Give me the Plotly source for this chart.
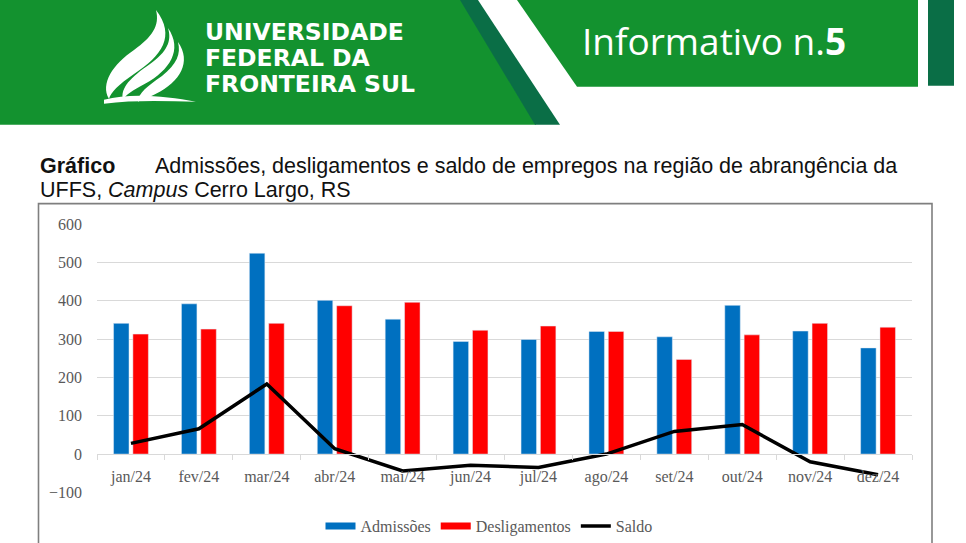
import plotly.graph_objects as go

# ---------------- data ----------------
meses = ["jan/24", "fev/24", "mar/24", "abr/24", "mai/24", "jun/24",
         "jul/24", "ago/24", "set/24", "out/24", "nov/24", "dez/24"]
admissoes = [341, 392, 524, 401, 352, 294, 299, 320, 306, 388, 321, 277]
desligamentos = [313, 326, 341, 387, 396, 323, 334, 320, 247, 311, 341, 331]
saldo = [28, 66, 183, 14, -44, -29, -35, 0, 59, 77, -20, -54]
y_ticks = [-100, 0, 100, 200, 300, 400, 500, 600]

W, H = 966, 543
# vertical placement helper (target pixel rows, compensated for the page capture)
YOFF, YSC = 8.0, 0.9705
def PX(x): return x / W
def PY(y): return 1 - ((y - YOFF) / YSC) / H

def path(cmds):
    out = []
    for c, pts in cmds:
        n = 3 if c == "C" else 1
        for i in range(0, len(pts), n):
            grp = pts[i:i + n]
            out.append(c + " " + " ".join(f"{PX(x):.5f},{PY(y):.5f}" for x, y in grp))
    return " ".join(out) + " Z"

BLUE = "#0070C0"
RED = "#FF0000"
GREEN = "#13922F"
DKGREEN = "#0A6E46"
GRID = "#D9D9D9"
TXT = "#595959"
SERIF = "Liberation Serif"

fig = go.Figure()
fig.add_trace(go.Bar(x=meses, y=admissoes, name="Admissões", marker_color=BLUE,
                     showlegend=False, legendgroup="a"))
fig.add_trace(go.Bar(x=meses, y=desligamentos, name="Desligamentos", marker_color=RED,
                     showlegend=False, legendgroup="d"))
fig.add_trace(go.Scatter(x=meses, y=saldo, name="Saldo", mode="lines",
                         line=dict(color="black", width=3.5), showlegend=False, legendgroup="s"))
# legend entries (wide line symbols like the original)
for nm, col, g in [("Admissões", BLUE, "a"), ("Desligamentos", RED, "d"), ("Saldo", "black", "s")]:
    fig.add_trace(go.Scatter(x=[None], y=[None], mode="lines", name=nm, legendgroup=g,
                             line=dict(color=col, width=7 if g != "s" else 3.5)))

shapes = []
# header panels
shapes.append(dict(type="path", xref="paper", yref="paper", line_width=0, fillcolor=GREEN,
                   path=path([("M", [(0, 0)]), ("L", [(461, 0), (536, 125), (0, 125)])])))
shapes.append(dict(type="path", xref="paper", yref="paper", line_width=0, fillcolor=DKGREEN,
                   path=path([("M", [(460, 0)]), ("L", [(478, 0), (560, 125), (535, 125)])])))
shapes.append(dict(type="path", xref="paper", yref="paper", line_width=0, fillcolor=GREEN,
                   path=path([("M", [(517, 0)]), ("L", [(918, 0), (918, 87), (577, 87)])])))
shapes.append(dict(type="rect", xref="paper", yref="paper", line_width=0, fillcolor=DKGREEN,
                   x0=PX(928), x1=PX(954), y0=PY(0), y1=PY(86)))
# logo (stylised flame)
logo = [
    [("M", [(156, 10)]), ("C", [(176, 36), (162, 56), (134, 74)]), ("C", [(118, 85), (111, 92), (109, 99)]),
     ("C", [(100, 84), (113, 64), (134, 50)]), ("C", [(152, 37), (160, 26), (156, 10)])],
    [("M", [(168, 28)]), ("C", [(183, 50), (170, 70), (145, 84)]), ("C", [(132, 91), (126, 95), (123, 100)]),
     ("C", [(120, 88), (131, 77), (150, 64)]), ("C", [(167, 52), (172, 41), (168, 28)])],
    [("M", [(178, 42)]), ("C", [(192, 62), (180, 82), (156, 94)]), ("C", [(146, 99), (141, 100), (138, 102)]),
     ("C", [(138, 93), (148, 86), (162, 76)]), ("C", [(177, 64), (181, 54), (178, 42)])],
    [("M", [(104, 100)]), ("C", [(130, 93), (165, 96), (196, 102)]), ("C", [(165, 101), (132, 100), (104, 104)])],
]
for lp in logo:
    shapes.append(dict(type="path", xref="paper", yref="paper", line_width=0, fillcolor="white",
                       path=path(lp)))
# chart frame
shapes.append(dict(type="rect", xref="paper", yref="paper", line=dict(color="#7F7F7F", width=1.6),
                   fillcolor="rgba(0,0,0,0)", x0=PX(38.5), x1=PX(932), y0=PY(575), y1=PY(204)))

annotations = []
hdr_font = dict(family="DejaVu Sans", size=23.5, color="white", weight="bold")
for txt, yc in [("UNIVERSIDADE", 32), ("FEDERAL DA", 58), ("FRONTEIRA SUL", 84)]:
    annotations.append(dict(text=txt, x=PX(204), y=PY(yc), xref="paper", yref="paper",
                            xanchor="left", yanchor="middle", showarrow=False, borderpad=0,
                            font=hdr_font))
annotations.append(dict(text="Informativo n.<b>5</b>", x=PX(580), y=PY(41), xref="paper", yref="paper",
                        xanchor="left", yanchor="middle", showarrow=False,
                        font=dict(family="Open Sans", size=37, color="white")))
tfont = dict(family="Liberation Sans", size=21.5, color="#111111")
annotations.append(dict(text="<b>Gráfico</b>", x=PX(39), y=PY(166), xref="paper", yref="paper",
                        xanchor="left", yanchor="middle", showarrow=False, font=tfont, borderpad=0))
annotations.append(dict(text="Admissões, desligamentos e saldo de empregos na região de abrangência da",
                        x=PX(154), y=PY(166), xref="paper", yref="paper", borderpad=0,
                        xanchor="left", yanchor="middle", showarrow=False, font=tfont))
annotations.append(dict(text="UFFS, <i>Campus</i> Cerro Largo, RS", x=PX(39), y=PY(190.5),
                        xref="paper", yref="paper", xanchor="left", yanchor="middle", borderpad=0,
                        showarrow=False, font=tfont))

fig.update_layout(
    width=W, height=H, autosize=False,
    margin=dict(l=0, r=0, t=0, b=0),
    paper_bgcolor="white", plot_bgcolor="white",
    barmode="group", bargap=0.43, bargroupgap=0.2,
    shapes=shapes, annotations=annotations,
    showlegend=True,
    legend=dict(orientation="h", x=PX(489), xanchor="center", y=PY(527), yanchor="middle",
                font=dict(family=SERIF, size=16, color=TXT), itemwidth=30,
                bgcolor="rgba(0,0,0,0)", traceorder="normal"),
    xaxis=dict(type="category", domain=[PX(97), PX(912)], range=[-0.5, 11.5],
               anchor="free", position=PY(455), showgrid=False,
               showline=True, linecolor=GRID, linewidth=1,
               ticks="outside", tickson="boundaries", ticklen=5, tickcolor=GRID,
               tickfont=dict(family=SERIF, size=16, color=TXT), ticklabelstandoff=8,
               fixedrange=True),
    yaxis=dict(domain=[PY(493.3), PY(224.5)], range=[-100, 600], tickvals=y_ticks,
               showgrid=True, gridcolor=GRID, gridwidth=1, zeroline=False,
               showline=False, ticks="", ticklabelstandoff=14,
               tickfont=dict(family=SERIF, size=16, color=TXT), fixedrange=True),
)

fig.write_html(
    "out.html",
    config={"displayModeBar": False, "responsive": False},
    default_width="966px", default_height="543px",
    post_script=("document.documentElement.style.margin='0';"
                 "document.body.style.margin='0';document.body.style.padding='0';"
                 "document.documentElement.style.overflow='hidden';"
                 "window.scrollTo(0,0);"),
)
